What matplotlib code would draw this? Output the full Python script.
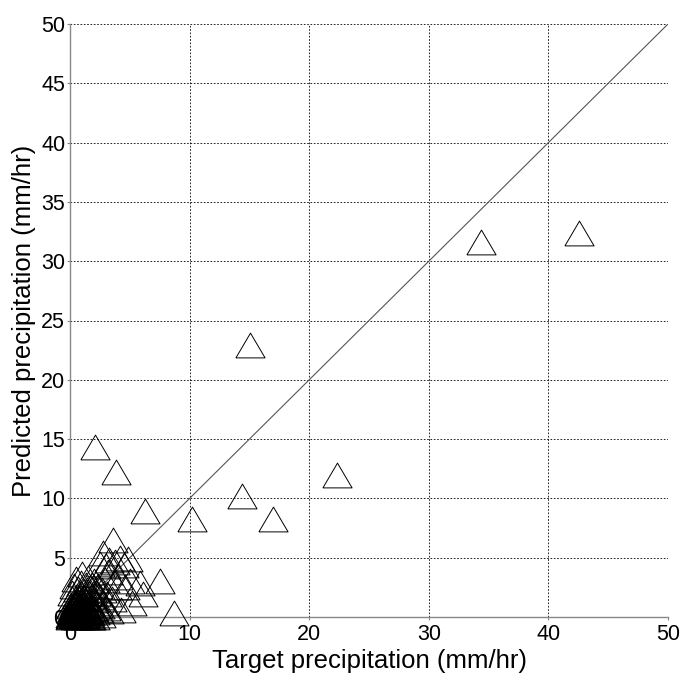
import matplotlib
matplotlib.use("Agg")
import matplotlib.pyplot as plt

plt.rcParams['font.family'] = ['Liberation Sans', 'DejaVu Sans']

# Outlying points
x_main = [34.4, 42.6, 15.05, 2.1, 3.85, 22.3, 14.4, 6.3, 10.2, 17.0, 7.5, 8.7]
y_main = [31.6, 32.4, 22.9, 14.3, 12.2, 12.0, 10.2, 8.9, 8.3, 8.3, 3.0, 0.35]

# Dense cluster near the origin
x_cluster = [0.1, 0.2, 0.3, 0.4, 0.5, 0.6, 0.7, 0.8, 0.9, 1.0, 1.1, 1.2, 1.3, 1.4, 1.5,
             1.6, 1.7, 1.8, 1.9, 2.0, 2.1, 2.2, 2.3, 2.4, 2.5, 2.6, 2.7, 2.8, 3.0, 3.1, 3.3,
             0.0, 0.05, 0.1, 0.15, 0.2, 0.3, 0.5, 0.4, 0.6, 0.7, 0.9, 1.0, 1.2, 1.3, 1.5,
             1.6, 1.8, 2.0, 0.25, 0.35, 0.45, 0.55, 0.65, 0.75, 0.85, 0.95, 1.05, 1.15,
             1.25, 1.45, 1.65, 1.85, 2.05, 2.35, 2.55,
             0.12, 0.22, 0.32, 0.42, 0.52, 0.62, 0.72, 0.82, 0.92, 1.02, 1.12, 1.22,
             1.32, 1.42, 1.52, 1.62, 1.72, 1.82, 0.08, 0.18, 0.28, 0.38, 0.48, 0.58,
             0.68, 0.78, 0.88, 0.98, 1.08, 1.18, 1.28, 1.38, 1.48, 1.58, 1.68, 1.78,
             0.03, 0.13, 0.23, 0.33, 0.43, 0.53, 0.63, 0.73, 0.83, 0.93]
y_cluster = [0.1, 0.3, 0.1, 0.5, 0.2, 0.8, 0.4, 1.0, 0.3, 0.6, 1.2, 0.2, 0.9, 1.5, 0.5,
             1.1, 0.3, 1.8, 0.8, 1.4, 0.4, 2.0, 1.0, 0.6, 1.7, 0.2, 2.3, 1.2, 0.8, 1.9, 0.5,
             0.0, 0.5, 1.0, 1.5, 2.0, 2.6, 3.2, 1.3, 1.8, 2.4, 2.9, 3.6, 2.2, 2.7, 3.3,
             2.0, 2.7, 3.0, 0.7, 1.1, 0.0, 1.4, 0.1, 1.6, 0.0, 2.0, 0.1, 1.7,
             0.0, 2.3, 0.0, 2.4, 0.0, 2.6, 0.9,
             0.05, 0.15, 0.25, 0.35, 0.45, 0.55, 0.65, 0.75, 0.85, 0.95, 0.05, 0.15,
             0.25, 0.35, 0.45, 0.55, 0.65, 0.75, 0.9, 0.7, 0.5, 0.3, 0.1, 1.1,
             0.9, 0.7, 0.5, 0.3, 0.1, 1.0, 0.8, 0.6, 0.4, 0.2, 0.1, 0.0,
             0.2, 0.4, 0.6, 0.8, 1.0, 1.2, 0.0, 0.2, 0.4, 0.6]

# Intermediate points
x_mid = [2.5, 2.76, 3.0, 3.3, 3.57, 3.8, 4.2, 4.5, 4.85, 4.0, 4.6, 5.0, 5.85, 6.1,
         4.3, 3.5, 3.9, 3.2, 2.9, 5.2]
y_mid = [4.5, 5.4, 4.3, 4.8, 6.5, 4.6, 5.0, 4.4, 4.9, 3.4, 2.5, 3.0, 2.9, 1.9,
         0.6, 1.5, 2.5, 3.8, 3.1, 1.2]

x_ticks = [0, 10, 20, 30, 40, 50]
y_ticks = [0, 5, 10, 15, 20, 25, 30, 35, 40, 45, 50]
ref_line = [0, 50]

fig = plt.figure(figsize=(6.84, 6.73), dpi=100)
ax = fig.add_axes([70/684, 1 - 617/673, (668-70)/684, (617-24)/673])

tri = [(-1, -0.85), (1, -0.85), (0, 0.85), (-1, -0.85)]

ax.plot(ref_line, ref_line, color='#555555', lw=0.8, zorder=2)
xs = x_cluster + x_mid + x_main
ys = y_cluster + y_mid + y_main
ax.plot(xs, ys, linestyle='none', marker=tri, ms=21, mfc='none', mec='black',
        mew=0.7, clip_on=False, zorder=3)

ax.set_xlim(0, 50)
ax.set_ylim(0, 50)
ax.set_xticks(x_ticks)
ax.set_yticks(y_ticks)
ax.tick_params(length=2, width=0.8, color='#888888', direction='out', labelsize=15.5)
ax.tick_params(axis='x', pad=3)
ax.tick_params(axis='y', pad=1.5)
ax.grid(True, color='black', linestyle=(0, (2, 2)), linewidth=0.6)
ax.set_axisbelow(True)
for s in ['top', 'right']:
    ax.spines[s].set_visible(False)
for s in ['left', 'bottom']:
    ax.spines[s].set_color('#888888')
    ax.spines[s].set_linewidth(1.0)

ax.set_xlabel('Target precipitation (mm/hr)', fontsize=18.5, labelpad=3)
ax.set_ylabel('Predicted precipitation (mm/hr)', fontsize=18.5, labelpad=3.5)

fig.savefig('out.png', dpi=100)
